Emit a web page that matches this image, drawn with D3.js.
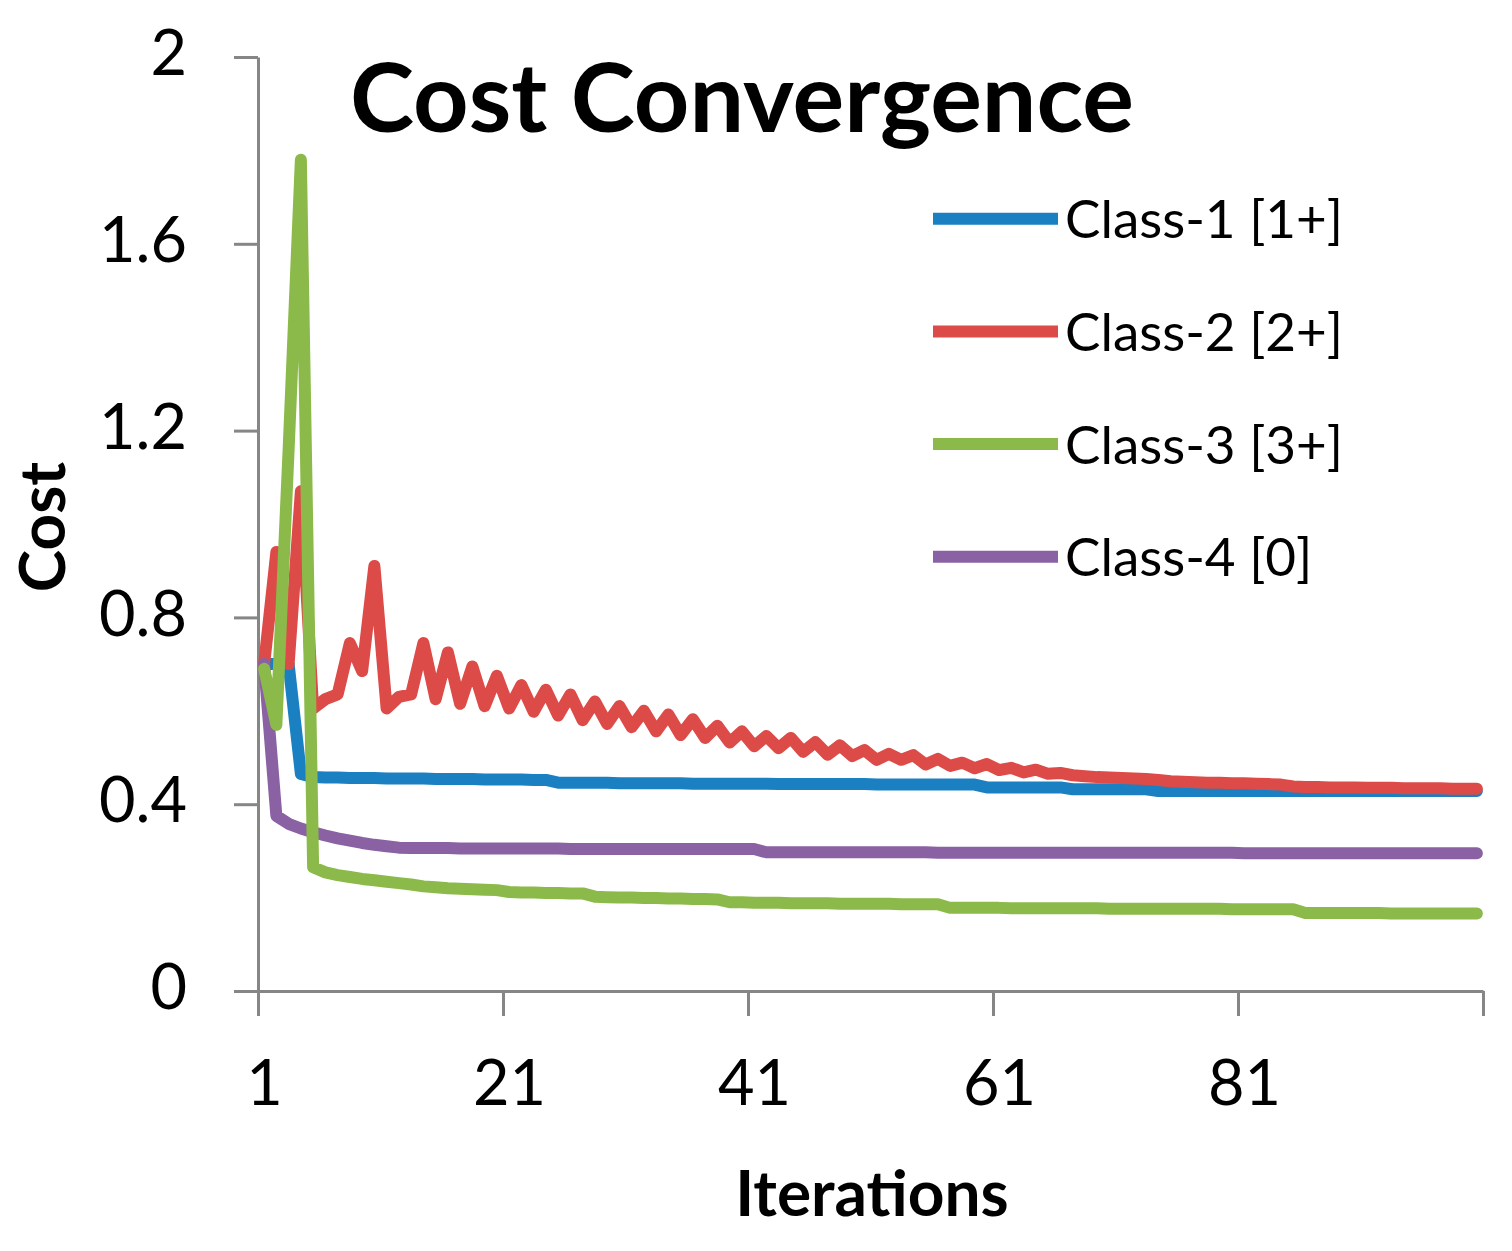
<!DOCTYPE html>
<html>
<head>
<meta charset="utf-8">
<title>Cost Convergence</title>
<script src="https://cdn.jsdelivr.net/npm/d3@7/dist/d3.min.js"></script>
<style>
    html, body { margin: 0; padding: 0; background: #fff; }
    svg { display: block; }
    text { font-family: Lato, "Open Sans", sans-serif; fill: #000; }
</style>
</head>
<body>
<svg id="chart" width="1512" height="1251"></svg>
<script>

// Series names as shown in the legend.
const seriesNames = ["Class-1 [1+]", "Class-2 [2+]", "Class-3 [3+]", "Class-4 [0]"];

// Iterations 1..100 (x categories).
const iterations = d3.range(1, 101);

// Tick labels.
const xTickLabels = [1, 21, 41, 61, 81];
const yTicks = [0, 0.4, 0.8, 1.2, 1.6, 2];
const yTickLabels = ["0", "0.4", "0.8", "1.2", "1.6", "2"];

// Cost per iteration.
const class1 = [
    0.700, 0.700, 0.700, 0.465, 0.458, 0.457, 0.457, 0.456, 0.456, 0.456,
    0.455, 0.455, 0.455, 0.455, 0.454, 0.454, 0.454, 0.454, 0.453, 0.453,
    0.453, 0.453, 0.452, 0.452, 0.446, 0.446, 0.446, 0.446, 0.446, 0.445,
    0.445, 0.445, 0.445, 0.445, 0.445, 0.444, 0.444, 0.444, 0.444, 0.444,
    0.444, 0.444, 0.443, 0.443, 0.443, 0.443, 0.443, 0.443, 0.443, 0.443,
    0.442, 0.442, 0.442, 0.442, 0.442, 0.442, 0.442, 0.442, 0.442, 0.436,
    0.436, 0.436, 0.436, 0.436, 0.436, 0.436, 0.432, 0.432, 0.432, 0.432,
    0.432, 0.432, 0.432, 0.428, 0.428, 0.428, 0.428, 0.428, 0.428, 0.428,
    0.428, 0.428, 0.428, 0.428, 0.428, 0.428, 0.428, 0.428, 0.428, 0.428,
    0.428, 0.428, 0.428, 0.428, 0.428, 0.428, 0.428, 0.428, 0.428, 0.428
];

const class2 = [
    0.700, 0.940, 0.700, 1.070, 0.605, 0.625, 0.635, 0.745, 0.685, 0.910,
    0.605, 0.630, 0.635, 0.745, 0.625, 0.725, 0.615, 0.695, 0.610, 0.675,
    0.605, 0.655, 0.598, 0.645, 0.590, 0.635, 0.580, 0.620, 0.572, 0.610,
    0.565, 0.600, 0.556, 0.592, 0.548, 0.582, 0.542, 0.568, 0.532, 0.556,
    0.524, 0.546, 0.520, 0.542, 0.512, 0.533, 0.506, 0.526, 0.503, 0.516,
    0.495, 0.508, 0.495, 0.505, 0.485, 0.497, 0.482, 0.489, 0.477, 0.486,
    0.473, 0.478, 0.468, 0.474, 0.465, 0.467, 0.462, 0.460, 0.458, 0.457,
    0.456, 0.455, 0.454, 0.452, 0.449, 0.448, 0.447, 0.446, 0.446, 0.445,
    0.445, 0.444, 0.443, 0.442, 0.438, 0.437, 0.437, 0.436, 0.436, 0.436,
    0.435, 0.435, 0.435, 0.434, 0.434, 0.434, 0.434, 0.433, 0.433, 0.433
];

const class3 = [
    0.690, 0.570, 1.160, 1.780, 0.265, 0.254, 0.248, 0.244, 0.240, 0.237,
    0.234, 0.231, 0.228, 0.224, 0.222, 0.220, 0.219, 0.218, 0.217, 0.216,
    0.212, 0.211, 0.211, 0.210, 0.210, 0.209, 0.209, 0.202, 0.201, 0.200,
    0.200, 0.199, 0.199, 0.198, 0.198, 0.197, 0.197, 0.196, 0.190, 0.190,
    0.189, 0.189, 0.189, 0.188, 0.188, 0.188, 0.188, 0.187, 0.187, 0.187,
    0.187, 0.187, 0.186, 0.186, 0.186, 0.186, 0.178, 0.178, 0.178, 0.178,
    0.178, 0.177, 0.177, 0.177, 0.177, 0.177, 0.177, 0.177, 0.177, 0.176,
    0.176, 0.176, 0.176, 0.176, 0.176, 0.176, 0.176, 0.176, 0.176, 0.175,
    0.175, 0.175, 0.175, 0.175, 0.175, 0.167, 0.167, 0.167, 0.167, 0.167,
    0.167, 0.167, 0.166, 0.166, 0.166, 0.166, 0.166, 0.166, 0.166, 0.166
];

const class4 = [
    0.700, 0.375, 0.358, 0.348, 0.340, 0.333, 0.327, 0.322, 0.317, 0.313,
    0.310, 0.307, 0.306, 0.306, 0.306, 0.306, 0.305, 0.305, 0.305, 0.305,
    0.305, 0.305, 0.305, 0.305, 0.305, 0.304, 0.304, 0.304, 0.304, 0.304,
    0.304, 0.304, 0.304, 0.304, 0.304, 0.304, 0.304, 0.304, 0.304, 0.304,
    0.304, 0.297, 0.297, 0.297, 0.297, 0.297, 0.297, 0.297, 0.297, 0.297,
    0.297, 0.297, 0.297, 0.297, 0.297, 0.296, 0.296, 0.296, 0.296, 0.296,
    0.296, 0.296, 0.296, 0.296, 0.296, 0.296, 0.296, 0.296, 0.296, 0.296,
    0.296, 0.296, 0.296, 0.296, 0.296, 0.296, 0.296, 0.296, 0.296, 0.296,
    0.295, 0.295, 0.295, 0.295, 0.295, 0.295, 0.295, 0.295, 0.295, 0.295,
    0.295, 0.295, 0.295, 0.295, 0.295, 0.295, 0.295, 0.295, 0.295, 0.295
];

const seriesColors = ["#1a80c2", "#dc4b47", "#8bba4a", "#8a62a4"];

desenharGrafico();

function desenharGrafico() {

    const svg = d3.select("#chart");

    const margin = { top: 57, right: 29, bottom: 260, left: 258 };
    const width = +svg.attr("width") - margin.left - margin.right;
    const height = +svg.attr("height") - margin.top - margin.bottom;

    const g = svg.append("g")
        .attr("transform", "translate(" + margin.left + "," + margin.top + ")");

    // Categories sit between the tick marks, like the original.
    const x = d3.scaleLinear()
        .domain([0.5, iterations.length + 0.5])
        .range([0, width]);

    const y = d3.scaleLinear()
        .domain([0, 2])
        .range([height, 0]);

    const axisColor = "#868686";

    // X axis: tick marks on the category boundaries.
    const xAxis = g.append("g")
        .attr("transform", "translate(0," + height + ")")
        .call(d3.axisBottom(x)
            .tickValues(d3.range(0, 6).map(k => 0.5 + k * 20))
            .tickFormat("")
            .tickSizeInner(25)
            .tickSizeOuter(0));

    // X labels centred on their categories.
    const xLabels = g.append("g")
        .attr("transform", "translate(0," + height + ")")
        .call(d3.axisBottom(x)
            .tickValues(xTickLabels)
            .tickSize(0)
            .tickPadding(69));
    xLabels.select(".domain").remove();

    // Y axis.
    const yAxis = g.append("g")
        .call(d3.axisLeft(y)
            .tickValues(yTicks)
            .tickFormat((d, i) => yTickLabels[i])
            .tickSizeInner(24)
            .tickSizeOuter(0)
            .tickPadding(47));

    [xAxis, yAxis].forEach(a => {
        a.selectAll("path, line")
            .attr("stroke", axisColor)
            .attr("stroke-width", 3);
    });

    svg.selectAll(".tick text")
        .attr("font-family", "Lato, sans-serif")
        .attr("font-size", 63)
        .attr("fill", "#000");
    yAxis.selectAll(".tick text").attr("dy", "0.28em");

    // Series lines (green drawn last, it sits on top in the original).
    const series = [class1, class2, class4, class3];
    const cores = [seriesColors[0], seriesColors[1], seriesColors[3], seriesColors[2]];

    const line = d3.line()
        .x((d, i) => x(iterations[i]))
        .y(d => y(d));

    g.selectAll(".serie")
        .data(series)
        .enter()
        .append("path")
        .attr("class", "serie")
        .attr("d", line)
        .attr("fill", "none")
        .attr("stroke", (d, i) => cores[i])
        .attr("stroke-width", 12)
        .attr("stroke-linejoin", "round")
        .attr("stroke-linecap", "round");

    // Title.
    svg.append("text")
        .attr("x", 350)
        .attr("y", 132)
        .attr("font-size", 96)
        .attr("font-weight", "bold")
        .attr("textLength", 784)
        .attr("lengthAdjust", "spacingAndGlyphs")
        .text("Cost Convergence");

    // Axis titles.
    svg.append("text")
        .attr("transform", "translate(65,527) rotate(-90)")
        .attr("text-anchor", "middle")
        .attr("font-size", 64)
        .attr("font-weight", "bold")
        .text("Cost");

    svg.append("text")
        .attr("x", 872)
        .attr("y", 1216)
        .attr("text-anchor", "middle")
        .attr("font-size", 64)
        .attr("font-weight", "bold")
        .text("Iterations");

    // Legend.
    const legenda = svg.append("g")
        .selectAll("g")
        .data(seriesNames)
        .enter()
        .append("g")
        .attr("transform", (d, i) => "translate(933," + (218.7 + i * 112.7) + ")");

    legenda.append("line")
        .attr("x1", 0)
        .attr("x2", 125)
        .attr("stroke", (d, i) => seriesColors[i])
        .attr("stroke-width", 12);

    legenda.append("text")
        .attr("x", 132)
        .attr("dy", "0.37em")
        .attr("font-size", 53)
        .text(d => d);
}
</script>
</body>
</html>
